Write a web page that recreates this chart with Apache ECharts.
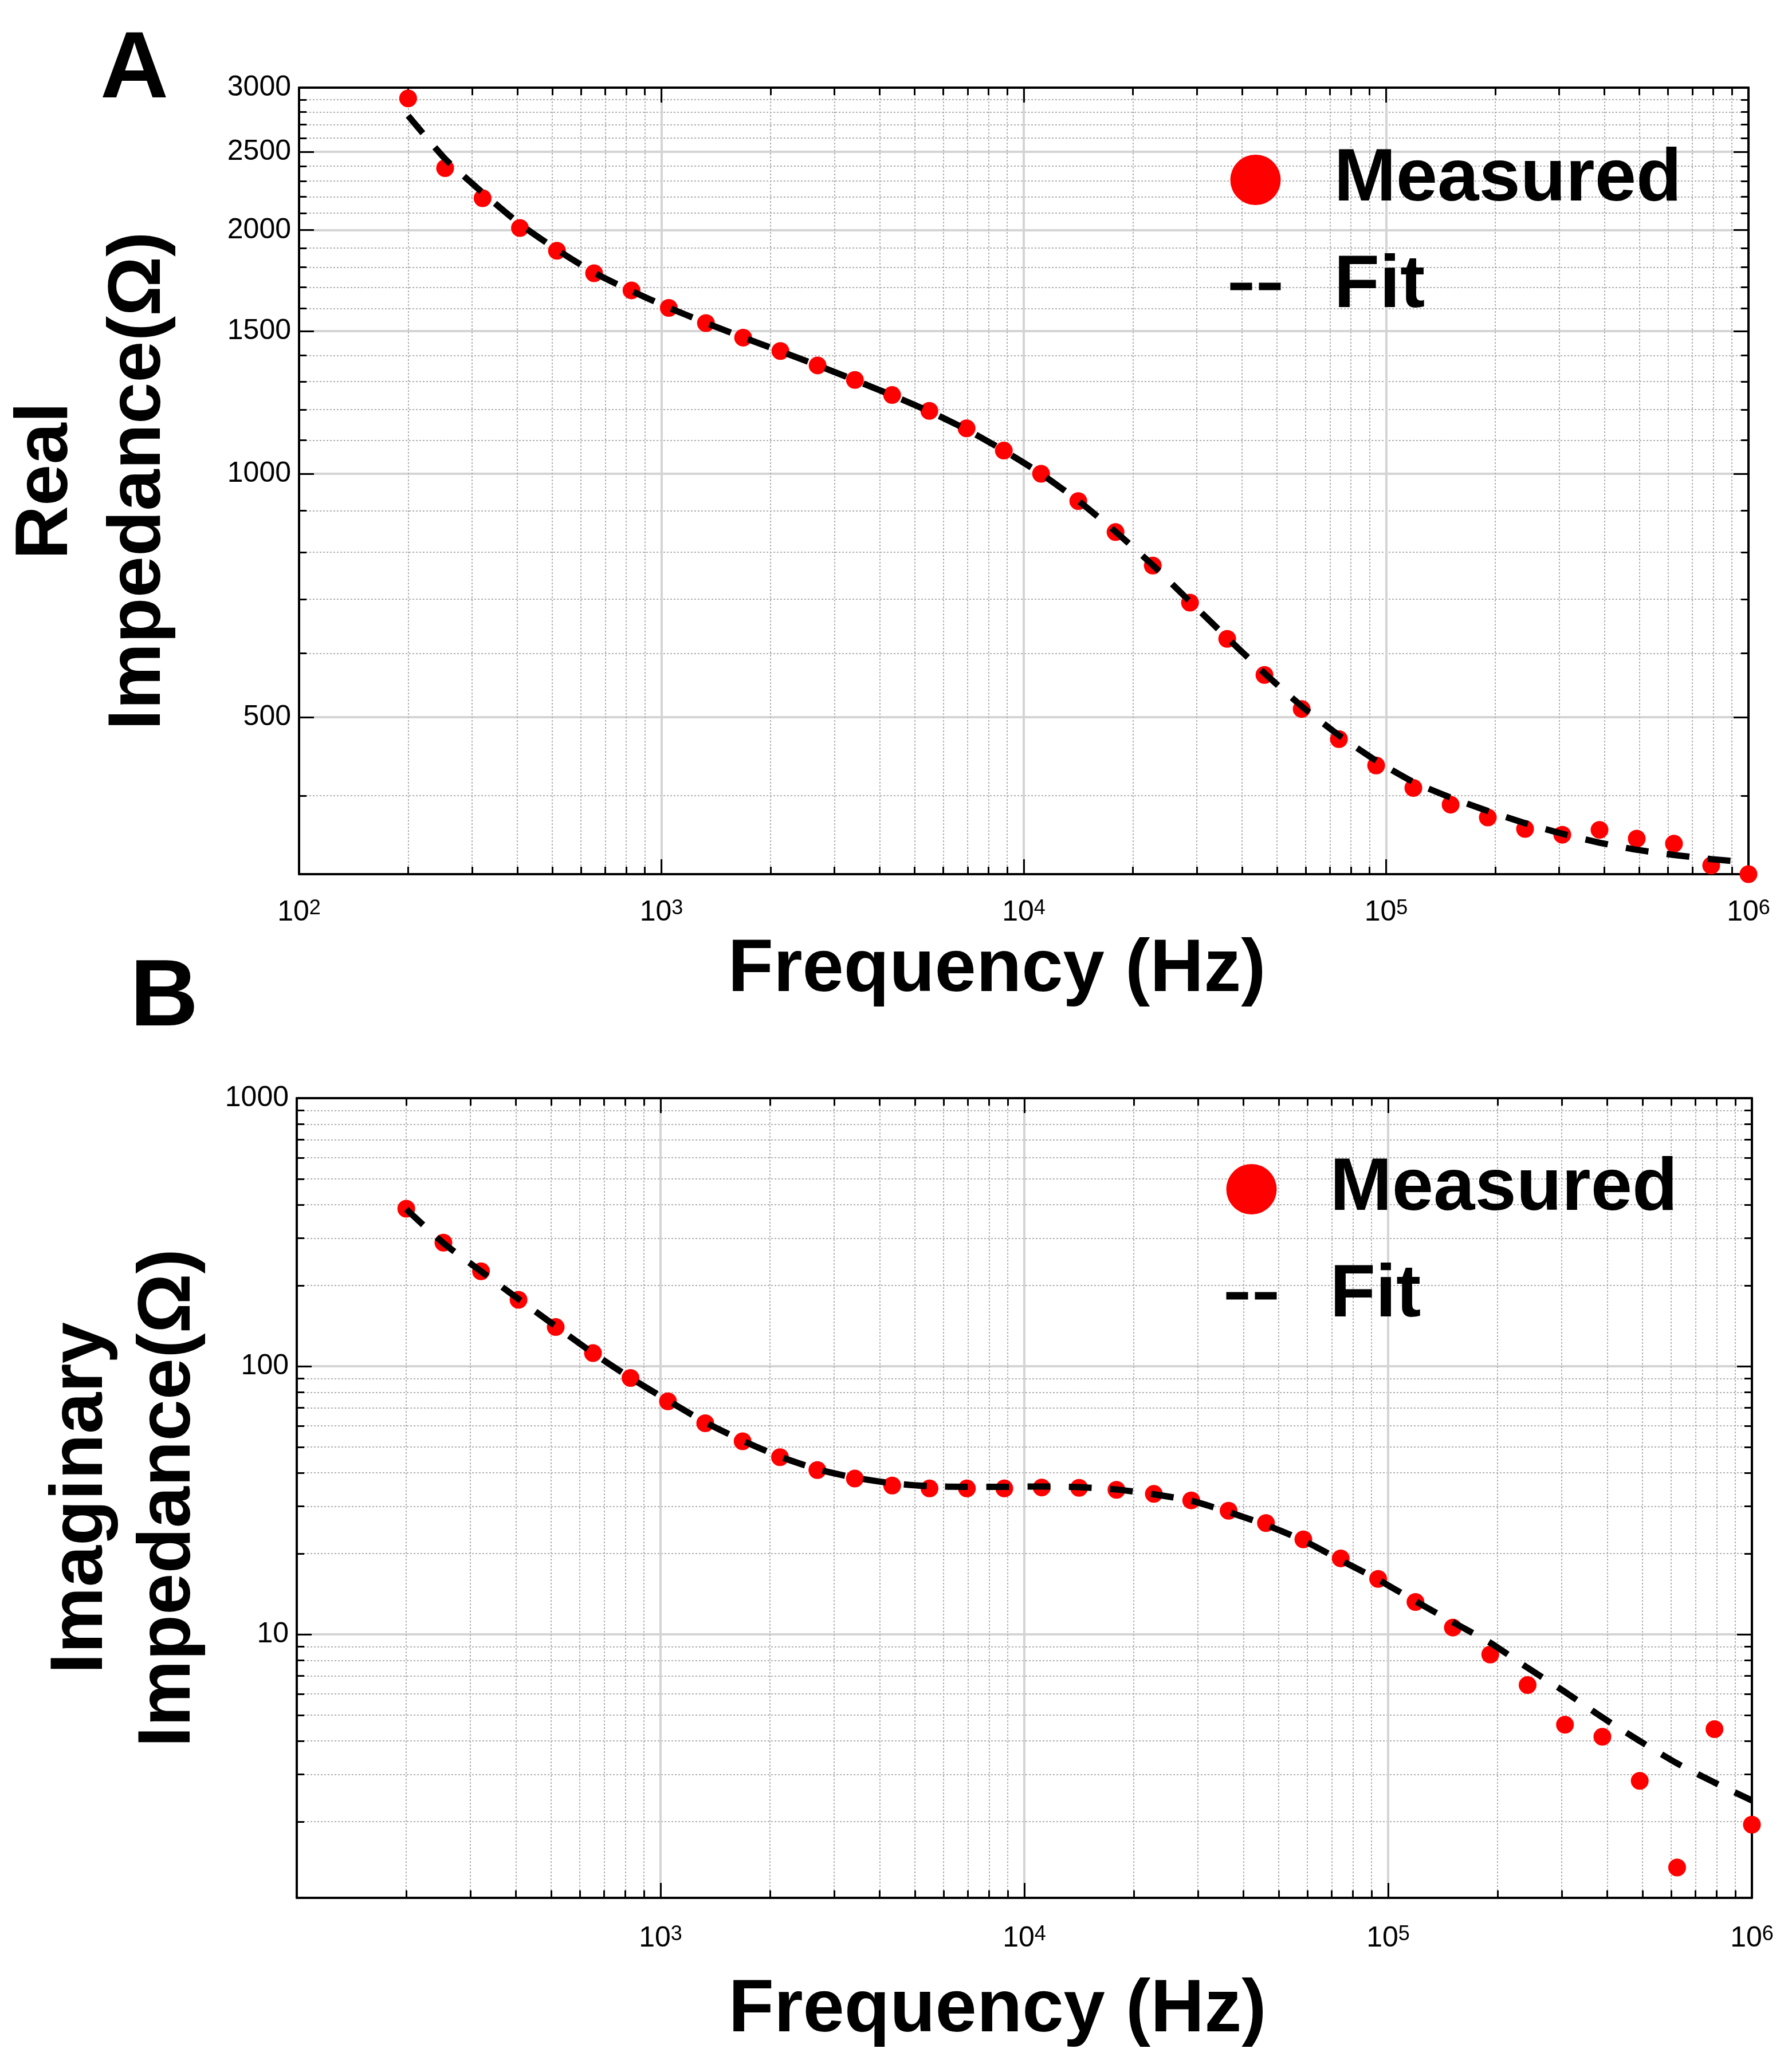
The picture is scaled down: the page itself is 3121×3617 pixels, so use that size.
<!DOCTYPE html>
<html>
<head>
<meta charset="utf-8">
<script src="https://cdn.jsdelivr.net/npm/echarts@6/dist/echarts.min.js"></script>
<style>
  html, body { margin: 0; padding: 0; background: #fff; }
  #chart { width: 3121px; height: 3617px; }
</style>
</head>
<body>
<div id="chart"></div>
<script>
// measurement frequencies (Hz), 37 points from 200 Hz to 1 MHz
const freq = [200, 253, 321, 407, 515, 652, 827, 1048, 1327, 1681,
  2130, 2698, 3420, 4332, 5488, 6953, 8810, 11163, 14141, 17917,
  22699, 28757, 36432, 46157, 58478, 74087, 93868, 118899, 150652, 190852,
  241791, 306301, 388082, 491634, 622891, 789093, 1000000];

// panel A: real impedance (ohm)
const realMeasured = [2910, 2386, 2190, 2012, 1886, 1769, 1685, 1603, 1535, 1473,
  1418, 1361, 1306, 1251, 1196, 1138, 1068, 1000, 925, 847,
  770, 693, 625, 564, 512, 470, 436, 409, 390, 376,
  364, 358, 363, 354, 349, 328, 320];
const realFit = [2770, 2450, 2225, 2035, 1892, 1772, 1682, 1604, 1536, 1474,
  1417, 1361, 1305, 1250, 1194, 1134, 1068, 1000, 926, 848,
  771, 695, 627, 567, 516, 475, 442, 416, 398, 383,
  370, 359, 350, 343, 338, 334, 331];

// panel B: imaginary impedance (ohm)
const imagMeasured = [387, 289, 226, 177, 140, 112, 90.4, 74.0, 61.3, 52.5,
  45.8, 41.0, 38.1, 35.9, 35.0, 35.0, 35.0, 35.3, 35.2, 34.6,
  33.4, 31.6, 28.9, 26.0, 22.6, 19.2, 16.1, 13.2, 10.6, 8.41,
  6.47, 4.60, 4.15, 2.84, 1.35, 4.43, 1.95];
const imagFit = [385, 288, 226, 178, 141, 112, 90.5, 74.5, 61.8, 52.8,
  46.0, 41.3, 38.4, 36.6, 35.7, 35.5, 35.5, 35.6, 35.4, 34.7,
  33.3, 31.5, 28.6, 25.6, 22.4, 18.9, 16.0, 13.3, 11.1, 9.3,
  7.5, 6.1, 4.9, 4.0, 3.3, 2.8, 2.4];

// ticks
const freqRange = [100, 1000000];
const freqMajor = [100, 1000, 10000, 100000, 1000000];
const freqMinor = [200, 300, 400, 500, 600, 700, 800, 900,
  2000, 3000, 4000, 5000, 6000, 7000, 8000, 9000,
  20000, 30000, 40000, 50000, 60000, 70000, 80000, 90000,
  200000, 300000, 400000, 500000, 600000, 700000, 800000, 900000];
const freqLabelsA = [100, 1000, 10000, 100000, 1000000];
const freqLabelsB = [1000, 10000, 100000, 1000000];

const realRange = [320, 3000];
const realLabels = [500, 1000, 1500, 2000, 2500, 3000];
const realMinor = [400, 600, 700, 800, 900, 1100, 1200, 1300, 1400,
  1600, 1700, 1800, 1900, 2100, 2200, 2300, 2400, 2600, 2700, 2800, 2900];

const imagRange = [1.04, 1000];
const imagLabels = [10, 100, 1000];
const imagMinor = [2, 3, 4, 5, 6, 7, 8, 9, 20, 30, 40, 50, 60, 70, 80, 90,
  200, 300, 400, 500, 600, 700, 800, 900];

const FONT = '"Liberation Sans", Arial, sans-serif';
const lg = Math.log10;

function tick(vals, len) {
  return { show: true, inside: true, length: len, customValues: vals.map(lg),
    lineStyle: { color: '#000', width: 3 } };
}

// 4 overlapping axes per side pair: minor, main, mirror major, mirror minor
function makeAxes(dim, gridIndex, range, majors, minors, main) {
  const sides = dim === 'x' ? ['bottom', 'top'] : ['left', 'right'];
  const frame = { show: true, onZero: false, lineStyle: { color: '#000', width: 4 } };
  const base = {
    type: 'value', gridIndex: gridIndex, min: lg(range[0]), max: lg(range[1]),
    axisLine: { show: false, onZero: false }, axisLabel: { show: false },
    axisTick: { show: false }, splitLine: { show: false }
  };
  return [
    Object.assign({}, base, { position: sides[0], axisTick: tick(minors, 13),
      splitLine: { show: true, lineStyle: { color: '#b0b0b0', width: 2, type: [3, 3] } } }),
    Object.assign({}, base, main, { position: sides[0], axisLine: frame,
      axisTick: tick(majors, 26),
      splitLine: { show: true, lineStyle: { color: '#d4d4d4', width: 4 } } }),
    Object.assign({}, base, { position: sides[1], axisLine: frame, axisTick: tick(majors, 26) }),
    Object.assign({}, base, { position: sides[1], axisTick: tick(minors, 13) })
  ];
}

const xLabel = (vals, margin) => ({
  show: true, customValues: vals.map(lg), margin: margin,
  formatter: v => '{b|10}{s|' + Math.round(v) + '}',
  rich: {
    b: { fontSize: 50, fontFamily: FONT, color: '#000', lineHeight: 50, padding: [20, 0, 0, 0], verticalAlign: 'bottom' },
    s: { fontSize: 36, fontFamily: FONT, color: '#000', lineHeight: 36, verticalAlign: 'top' }
  }
});
const yLabel = vals => ({
  show: true, customValues: vals.map(lg), margin: 14,
  fontSize: 50, fontFamily: FONT, color: '#000',
  formatter: v => String(Math.round(Math.pow(10, v)))
});
const nameStyle = (lh, pad) => ({ fontSize: 130, fontWeight: 'bold', fontFamily: FONT,
  color: '#000', lineHeight: lh, padding: pad });

const xAxes = makeAxes('x', 0, freqRange, freqMajor, freqMinor, {
  axisLabel: xLabel(freqLabelsA, 42),
  name: 'Frequency (Hz)', nameLocation: 'middle', nameGap: 91,
  nameTextStyle: nameStyle(150, [0, 94, 0, 0])
}).concat(makeAxes('x', 1, freqRange, freqMajor, freqMinor, {
  axisLabel: xLabel(freqLabelsB, 46),
  name: 'Frequency (Hz)', nameLocation: 'middle', nameGap: 122,
  nameTextStyle: nameStyle(150, [0, 94, 0, 0])
}));

const yAxes = makeAxes('y', 0, realRange, realLabels, realMinor, {
  axisLabel: yLabel(realLabels),
  name: 'Real\nImpedance(\u03A9)', nameLocation: 'middle', nameGap: 198, nameRotate: 90,
  nameTextStyle: nameStyle(162, 0)
}).concat(makeAxes('y', 1, imagRange, imagLabels, imagMinor, {
  axisLabel: yLabel(imagLabels),
  name: 'Imaginary\nImpedance(\u03A9)', nameLocation: 'middle', nameGap: 146, nameRotate: 90,
  nameTextStyle: nameStyle(153, 0)
}));

function panelSeries(idx, measured, fit) {
  const ax = idx * 4 + 1;
  return [{
    name: 'Measured', type: 'scatter', xAxisIndex: ax, yAxisIndex: ax,
    data: freq.map((f, i) => [lg(f), lg(measured[i])]),
    symbol: 'circle', symbolSize: 31, itemStyle: { color: '#ff0000', opacity: 1 },
    clip: false, z: 3
  }, {
    name: 'Fit', type: 'line', xAxisIndex: ax, yAxisIndex: ax,
    data: freq.map((f, i) => [lg(f), lg(fit[i])]),
    symbol: 'none', smooth: 0.2, clip: false, z: 4,
    itemStyle: { color: 'rgba(0,0,0,0)' },
    lineStyle: { color: '#000', width: 11, type: [40, 32] }
  }];
}

function legendAt(left, top) {
  return {
    data: ['Measured', { name: 'Fit', itemStyle: { opacity: 0 } }],
    orient: 'vertical', left: left, top: top,
    itemWidth: 88, itemHeight: 88, itemGap: 56, selectedMode: false,
    textStyle: { fontSize: 130, fontWeight: 'bold', fontFamily: FONT, color: '#000', padding: [0, 0, 0, 88] },
    lineStyle: { width: 13, color: '#000', type: [38, 12], cap: 'butt' }
  };
}

const chart = echarts.init(document.getElementById('chart'));
chart.setOption({
  animation: false,
  backgroundColor: '#fff',
  title: [
    { text: 'A', left: 170, top: 37, textStyle: { fontSize: 165, fontWeight: 'bold', fontFamily: FONT, color: '#000' } },
    { text: 'B', left: 222, top: 1657, textStyle: { fontSize: 165, fontWeight: 'bold', fontFamily: FONT, color: '#000' } }
  ],
  legend: [legendAt(2136, 244), legendAt(2129, 2006)],
  grid: [
    { left: 522, right: 69, top: 153, height: 1373, containLabel: false, outerBoundsMode: 'none' },
    { left: 518, right: 63, top: 1917, height: 1396, containLabel: false, outerBoundsMode: 'none' }
  ],
  xAxis: xAxes,
  yAxis: yAxes,
  series: panelSeries(0, realMeasured, realFit).concat(panelSeries(1, imagMeasured, imagFit))
});
</script>
</body>
</html>
